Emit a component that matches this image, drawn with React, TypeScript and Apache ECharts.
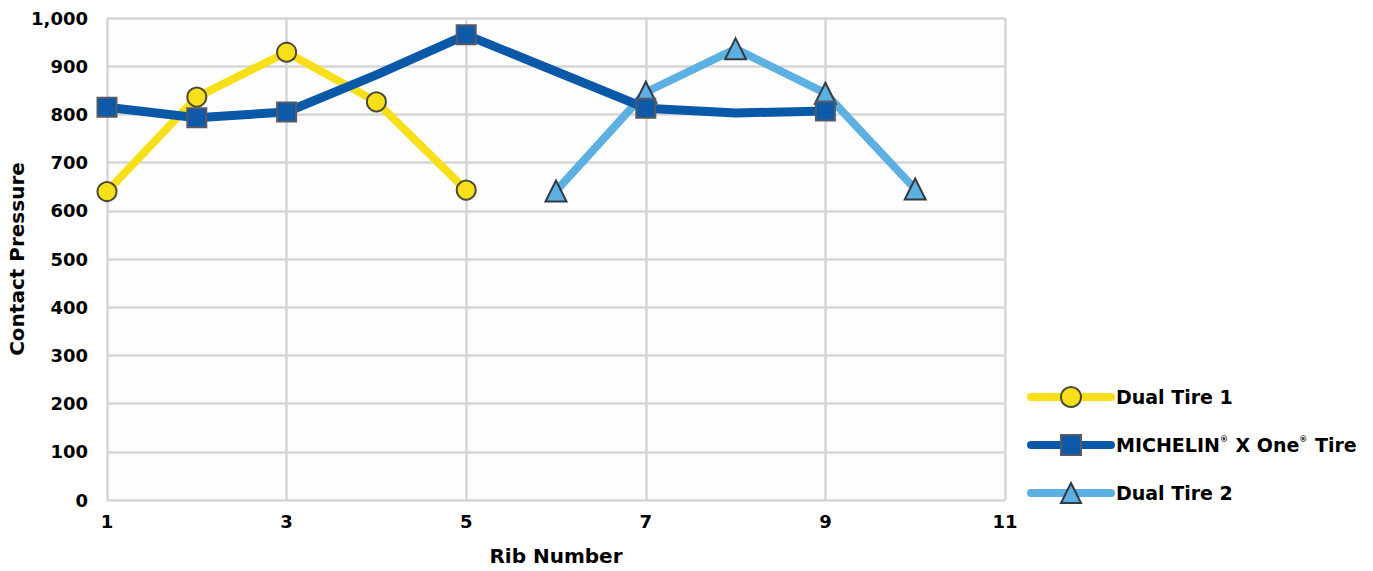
import React, { useEffect, useRef } from "react";
import * as echarts from "echarts";

const ribNumbers = [1, 2, 3, 4, 5, 6, 7, 8, 9, 10];
const dualTire1 = [640, 836, 929, 826, 643, null, null, null, null, null];
const michelin = [815, 793, 805, 882, 965, 889, 813, 803, 807, null];
const michelinMarked = [true, true, true, false, true, false, true, false, true, false];
const dualTire2 = [null, null, null, null, null, 641, 846, 936, 844, 645];
const yTicks = [0, 100, 200, 300, 400, 500, 600, 700, 800, 900, 1000];

const FONT = "'DejaVu Sans', 'Noto Sans', sans-serif";
const YELLOW = "#f7e01a";
const DARK = "#0a58a8";
const LIGHT = "#5db0e2";

export default function App() {
  const ref = useRef<HTMLDivElement>(null);
  useEffect(() => {
    if (!ref.current) return;
    const chart = echarts.init(ref.current, null, { renderer: "svg" });
    const pair = (arr: (number | null)[]) =>
      ribNumbers.map((x, i) => [x, arr[i]]).filter((p) => p[1] !== null);
    const michData = ribNumbers
      .map((x, i) => ({
        value: [x, michelin[i]],
        symbol: michelinMarked[i] ? "rect" : "none",
      }))
      .filter((d) => d.value[1] !== null);
    const gridLine = {
      show: true,
      lineStyle: { color: "#d6d6d6", width: 2.5 },
    };
    chart.setOption({
      animation: false,
      backgroundColor: "#ffffff",
      textStyle: { fontFamily: FONT },
      grid: {
        left: 107,
        right: 368,
        top: 18,
        bottom: 71,
        show: true,
        backgroundColor: "#fdfdfd",
        borderWidth: 0,
        containLabel: false,
        outerBoundsMode: "none",
      },
      legend: {
        orient: "vertical",
        left: 1027,
        top: 386,
        padding: 0,
        itemWidth: 80,
        itemHeight: 25,
        itemGap: 26,
        textStyle: {
          fontFamily: FONT,
          fontWeight: "bold",
          fontSize: 19,
          color: "#000",
          rich: {
            sup: { fontSize: 8, fontWeight: "bold", color: "#000", verticalAlign: "top", padding: [0, 1, 9, 0] },
          },
        },
        formatter: (name: string) =>
          name === "MICHELIN X One Tire" ? "MICHELIN{sup|®} X One{sup|®} Tire" : name,
        data: [
          { name: "Dual Tire 1", lineStyle: { width: 8, color: YELLOW, cap: "round" } },
          { name: "MICHELIN X One Tire", lineStyle: { width: 8, color: DARK, cap: "round" } },
          { name: "Dual Tire 2", lineStyle: { width: 8, color: LIGHT, cap: "round" } },
        ],
      },
      xAxis: {
        type: "value",
        min: 1,
        max: 11,
        interval: 2,
        name: "Rib Number",
        nameLocation: "middle",
        nameGap: 46,
        nameMoveOverlap: false,
        nameTextStyle: { fontFamily: FONT, fontWeight: "bold", fontSize: 20, color: "#000" },
        axisLine: { show: false },
        axisTick: { show: false },
        axisLabel: { fontFamily: FONT, fontWeight: "bold", fontSize: 18, color: "#000", margin: 12 },
        splitLine: gridLine,
      },
      yAxis: {
        type: "value",
        min: yTicks[0],
        max: yTicks[yTicks.length - 1],
        interval: 100,
        name: "Contact Pressure",
        nameLocation: "middle",
        nameGap: 80,
        nameMoveOverlap: false,
        nameTextStyle: { fontFamily: FONT, fontWeight: "bold", fontSize: 20, color: "#000" },
        axisLine: { show: false },
        axisTick: { show: false },
        axisLabel: {
          fontFamily: FONT,
          fontWeight: "bold",
          fontSize: 18,
          color: "#000",
          margin: 19,
          formatter: (v: number) => v.toLocaleString("en-US"),
        },
        splitLine: gridLine,
      },
      series: [
        {
          name: "Dual Tire 1",
          type: "line",
          data: pair(dualTire1),
          z: 2,
          symbol: "circle",
          symbolSize: 19,
          lineStyle: { color: YELLOW, width: 8, cap: "round", join: "round" },
          itemStyle: { color: YELLOW, borderColor: "#4a4a3a", borderWidth: 2 },
        },
        {
          name: "MICHELIN X One Tire",
          type: "line",
          data: michData,
          z: 4,
          symbol: "rect",
          symbolSize: 19,
          showAllSymbol: true,
          lineStyle: { color: DARK, width: 9, cap: "round", join: "round" },
          itemStyle: { color: "#0f5aa8", borderColor: "#555a66", borderWidth: 2 },
        },
        {
          name: "Dual Tire 2",
          type: "line",
          data: pair(dualTire2),
          z: 3,
          symbol: "triangle",
          symbolSize: 21,
          lineStyle: { color: LIGHT, width: 8, cap: "round", join: "round" },
          itemStyle: { color: LIGHT, borderColor: "#333a44", borderWidth: 2 },
        },
      ],
    });
    return () => chart.dispose();
  }, []);
  return <div ref={ref} style={{ width: 1373, height: 571, position: "absolute", left: 0, top: 0 }} />;
}
